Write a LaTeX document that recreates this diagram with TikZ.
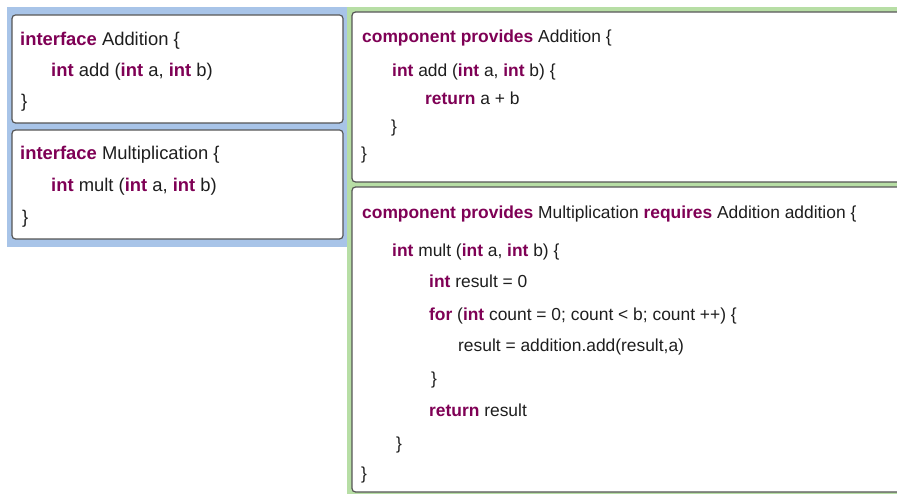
\documentclass[tikz,border=0pt]{standalone}
\usepackage{fontspec}
\setmainfont{Liberation Sans}
\definecolor{kwcol}{RGB}{127,0,85}
\definecolor{txtcol}{RGB}{30,30,30}
\definecolor{ifacebg}{RGB}{168,196,232}
\definecolor{compbg}{RGB}{183,222,165}
\definecolor{boxedge}{RGB}{85,85,85}
\newcommand{\kw}[1]{{\bfseries\color{kwcol}#1}}
\begin{document}
\begin{tikzpicture}[x=1pt,y=-1pt,
  panel/.style={draw=none},
  codebox/.style={draw=boxedge,fill=white,line width=1.2pt,rounded corners=3.5pt},
  codeline/.style={anchor=base west,inner sep=0pt,text=txtcol,
    font=\fontsize{17.4}{20}\selectfont},
  ifaceline/.style={codeline,font=\fontsize{18.4}{21}\selectfont}]
\clip (0,0) rectangle (897,494);
\fill[white] (0,0) rectangle (897,494);

% background panels
\fill[ifacebg,panel] (7,7) rectangle (347,247);
\fill[compbg,panel] (347,7) rectangle (905,500);

% interface boxes
\draw[codebox] (12,15) rectangle (343,123);
\draw[codebox] (12,130) rectangle (343,239);

% component boxes
\draw[codebox] (352,12) rectangle (910,182);
\draw[codebox] (352,187) rectangle (910,492);

% interface Addition
\node[ifaceline] (ia1) at (20,46) {\kw{interface} Addition \{};
\node[ifaceline] (ia2) at (51,77) {\kw{int} add (\kw{int} a, \kw{int} b)};
\node[ifaceline] (ia3) at (21,108) {\}};

% interface Multiplication
\node[ifaceline] (im1) at (20,160) {\kw{interface} Multiplication \{};
\node[ifaceline] (im2) at (51,192) {\kw{int} mult (\kw{int} a, \kw{int} b)};
\node[ifaceline] (im3) at (22,224) {\}};

% component providing Addition
\node[codeline] (ca1) at (362,43) {\kw{component} \kw{provides} Addition \{};
\node[codeline] (ca2) at (392,77) {\kw{int} add (\kw{int} a, \kw{int} b) \{};
\node[codeline] (ca3) at (425,105) {\kw{return} a + b};
\node[codeline] (ca4) at (391,133) {\}};
\node[codeline] (ca5) at (361,160) {\}};

% component providing Multiplication
\node[codeline] (cm1) at (362,219) {\kw{component} \kw{provides} Multiplication \kw{requires} Addition addition \{};
\node[codeline] (cm2) at (392,257) {\kw{int} mult (\kw{int} a, \kw{int} b) \{};
\node[codeline] (cm3) at (429,288) {\kw{int} result = 0};
\node[codeline] (cm4) at (429,320) {\kw{for} (\kw{int} count = 0; count < b; count ++) \{};
\node[codeline] (cm5) at (458,352) {result = addition.add(result,a)};
\node[codeline] (cm6) at (431,384) {\}};
\node[codeline] (cm7) at (429,416) {\kw{return} result};
\node[codeline] (cm8) at (396,449) {\}};
\node[codeline] (cm9) at (361,479) {\}};
\end{tikzpicture}
\end{document}
